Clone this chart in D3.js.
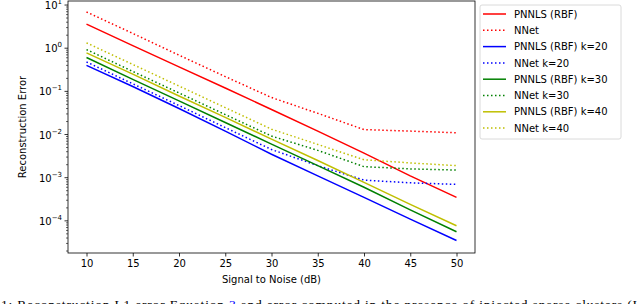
<!DOCTYPE html>
<html>
<head>
<meta charset="utf-8">
<script src="https://cdn.jsdelivr.net/npm/d3@7"></script>
<style>
body { margin: 0; background: #fff; }
svg { display: block; font-family: "DejaVu Sans", sans-serif; }
</style>
</head>
<body>
<svg width="640" height="304"></svg>
<script>
var svg = d3.select('svg');

// signal to noise (dB)
var snr = [10, 15, 20, 25, 30, 35, 40, 45, 50];

// reconstruction error
var pnnls   = [3.6, 1.15, 0.37, 0.12, 0.038, 0.012, 0.0037, 0.0011, 0.00035];
var nnet    = [6.9, 2.2, 0.69, 0.22, 0.072, 0.031, 0.013, 0.012, 0.011];
var pnnls20 = [0.40, 0.13, 0.040, 0.012, 0.0035, 0.0011, 0.00035, 0.00011, 0.000035];
var nnet20  = [0.48, 0.15, 0.047, 0.0145, 0.0045, 0.0019, 0.00088, 0.00076, 0.0007];
var pnnls30 = [0.61, 0.19, 0.06, 0.019, 0.006, 0.0019, 0.0006, 0.00018, 0.000056];
var nnet30  = [0.93, 0.29, 0.092, 0.029, 0.0092, 0.0043, 0.0018, 0.0016, 0.0015];
var pnnls40 = [0.78, 0.25, 0.078, 0.025, 0.0078, 0.0025, 0.00078, 0.00024, 0.000077];
var nnet40  = [1.33, 0.42, 0.133, 0.042, 0.0133, 0.0059, 0.0026, 0.0022, 0.0019];

var seriesNames = ['PNNLS (RBF)', 'NNet', 'PNNLS (RBF) k=20', 'NNet k=20',
                   'PNNLS (RBF) k=30', 'NNet k=30', 'PNNLS (RBF) k=40', 'NNet k=40'];
var seriesValues = [pnnls, nnet, pnnls20, nnet20, pnnls30, nnet30, pnnls40, nnet40];
var seriesColors = ['#ff0000', '#ff0000', '#0000ff', '#0000ff', '#008000', '#008000', '#bfbf00', '#bfbf00'];
var seriesDotted = [false, true, false, true, false, true, false, true];

var xTicks = [10, 15, 20, 25, 30, 35, 40, 45, 50];
var yExps = [1, 0, -1, -2, -3, -4];

var plotLeft = 68, plotRight = 475, plotTop = 1, plotBottom = 253;

var x = d3.scaleLinear().domain([8, 52]).range([plotLeft, plotRight]);
var y = d3.scaleLog().domain([1.8e-5, 12.4]).range([plotBottom, plotTop]);

var series = seriesNames.map(function(name, i){
    return {name: name, values: seriesValues[i], color: seriesColors[i], dotted: seriesDotted[i]};
});

var line = d3.line()
    .x(function(d, i){ return x(snr[i]); })
    .y(function(d){ return y(d); });

svg.selectAll('path.series')
    .data(series)
    .enter()
    .append('path')
    .attr('class', 'series')
    .attr('d', function(d){ return line(d.values); })
    .attr('fill', 'none')
    .attr('stroke', function(d){ return d.color; })
    .attr('stroke-width', 1.5)
    .attr('stroke-dasharray', function(d){ return d.dotted ? '1.5,2.5' : null; });

// frame
svg.append('rect')
    .attr('x', plotLeft).attr('y', plotTop)
    .attr('width', plotRight - plotLeft).attr('height', plotBottom - plotTop)
    .attr('fill', 'none').attr('stroke', '#000').attr('stroke-width', 0.8);

// x axis
var xAxis = d3.axisBottom(x).tickValues(xTicks).tickSize(3.5).tickPadding(3.5);
var gx = svg.append('g').attr('transform', 'translate(0,' + plotBottom + ')').call(xAxis);
gx.select('.domain').remove();
gx.selectAll('text').attr('font-size', 10).attr('fill', '#000').attr('font-family', 'DejaVu Sans');
gx.selectAll('line').attr('stroke-width', 0.8);

// y axis: minor ticks
var minors = [];
for (var e = -5; e <= 1; e++) {
    for (var m = 2; m <= 9; m++) {
        var v = m * Math.pow(10, e);
        if (v >= y.domain()[0] && v <= y.domain()[1]) minors.push(v);
    }
}
svg.selectAll('line.minor')
    .data(minors)
    .enter()
    .append('line')
    .attr('class', 'minor')
    .attr('x1', plotLeft - 2).attr('x2', plotLeft)
    .attr('y1', function(d){ return y(d); })
    .attr('y2', function(d){ return y(d); })
    .attr('stroke', '#000').attr('stroke-width', 0.6);

svg.selectAll('line.major')
    .data(yExps)
    .enter()
    .append('line')
    .attr('class', 'major')
    .attr('x1', plotLeft - 3.5).attr('x2', plotLeft)
    .attr('y1', function(d){ return y(Math.pow(10, d)); })
    .attr('y2', function(d){ return y(Math.pow(10, d)); })
    .attr('stroke', '#000').attr('stroke-width', 0.8);

var yl = svg.selectAll('text.ylab')
    .data(yExps)
    .enter()
    .append('text')
    .attr('class', 'ylab')
    .attr('x', plotLeft - 6)
    .attr('y', function(d){ return y(Math.pow(10, d)) + 4; })
    .attr('text-anchor', 'end')
    .attr('font-size', 10);
yl.append('tspan').text('10');
yl.append('tspan')
    .attr('dy', -5)
    .attr('font-size', 7)
    .text(function(d){ return d < 0 ? '\u2212' + (-d) : '' + d; });

// axis labels
svg.append('text')
    .attr('x', (plotLeft + plotRight) / 2).attr('y', 283)
    .attr('text-anchor', 'middle').attr('font-size', 10)
    .text('Signal to Noise (dB)');

svg.append('text')
    .attr('transform', 'translate(26,' + (plotTop + plotBottom) / 2 + ') rotate(-90)')
    .attr('text-anchor', 'middle').attr('font-size', 10)
    .text('Reconstruction Error');

// legend
var lg = svg.append('g').attr('transform', 'translate(480,5)');
lg.append('rect')
    .attr('width', 141).attr('height', 134)
    .attr('rx', 2).attr('ry', 2)
    .attr('fill', '#fff').attr('stroke', '#d0d0d0').attr('stroke-width', 0.8);

var items = lg.selectAll('g.item')
    .data(series)
    .enter()
    .append('g')
    .attr('class', 'item')
    .attr('transform', function(d, i){ return 'translate(0,' + (9 + i * 16.3) + ')'; });

items.append('line')
    .attr('x1', 3).attr('x2', 26)
    .attr('stroke', function(d){ return d.color; })
    .attr('stroke-width', 1.5)
    .attr('stroke-dasharray', function(d){ return d.dotted ? '1.5,2.5' : null; });

items.append('text')
    .attr('x', 34).attr('y', 3.6)
    .attr('font-size', 10)
    .text(function(d){ return d.name; });

// caption, cut off at the bottom of the picture
var cap = svg.append('text')
    .attr('x', 1).attr('y', 309)
    .attr('font-size', 13.5)
    .style('font-family', '"Liberation Serif", "DejaVu Serif", serif')
    .attr('textLength', 636)
    .attr('lengthAdjust', 'spacing');
cap.append('tspan').text('1: Reconstruction L1 error Equation ');
cap.append('tspan').attr('fill', '#0000ff').text('3');
cap.append('tspan').text(' and error computed in the presence of injected sparse clusters (I');
</script>
</body>
</html>
